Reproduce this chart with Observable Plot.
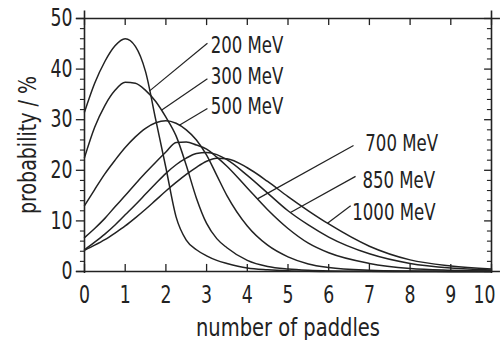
<!DOCTYPE html>
<html><head><meta charset="utf-8">
<script src="https://cdn.jsdelivr.net/npm/d3@7"></script>
<script src="https://cdn.jsdelivr.net/npm/@observablehq/plot@0.6"></script>
<style>body{margin:0;background:#fff}</style>
</head><body><div id="chart"></div>
<script>
// number of paddles (x grid of the read-off points)
const paddles = [0,0.25,0.5,0.75,1,1.25,1.5,1.75,2,2.25,2.5,2.75,3,3.25,3.5,4,4.5,5,5.5,6,7,8,9,10];
// probability / % for each beam energy
const p200  = [31.5,37.2,41.5,44.6,46,44.5,39.5,30,20.5,10.8,6.2,4.3,3.1,2.2,1.6,0.7,0.35,0.15,0.05,0,0,0,0,0];
const p300  = [22.5,28.5,32.8,35.8,37.4,37.2,35.8,33.6,30.5,26.8,21,14.5,9.5,6.5,4.7,2.2,1,0.5,0.25,0.12,0.03,0,0,0];
const p500  = [13,16.2,19.3,22,24.5,26.6,28.3,29.4,29.8,29.3,28,26,23,19,15,9,5.2,2.9,1.5,0.8,0.25,0.08,0.02,0];
const p700  = [6.7,8.5,10.5,12.8,15,17.3,19.5,21.6,23.6,25.5,25.6,25,24.2,22.6,20.8,16.5,12.2,8.5,5.6,3.7,1.6,0.6,0.25,0.1];
const p850  = [4.3,5.8,7.4,9.2,11.2,13.2,15.3,17.4,19.4,21.1,22.4,23.3,23.5,23.1,22.1,19,15.5,12,9.2,6.8,3.5,1.6,0.7,0.3];
const p1000 = [4.2,5.2,6.3,7.6,9,10.6,12.3,14.1,15.9,17.6,19.2,20.6,21.8,22.4,22.3,20.5,17.8,14.8,12,9.4,5,2.3,1.1,0.5];

const energies = ["200 MeV","300 MeV","500 MeV","700 MeV","850 MeV","1000 MeV"];
const seriesValues = [p200,p300,p500,p700,p850,p1000];

// label positions (data units) and leader lines
const labelX     = [3.1,3.1,3.1,6.9,6.83,6.58];
const labelY     = [44.7,38.5,32.6,25.3,18.0,11.7];
const leaderFromX = [1.6,1.89,2.33,4.25,5.06,5.97];
const leaderToX   = [3.02,3.02,3.02,6.61,6.66,6.54];
const leaderToY   = [45.1,38.1,32.2,24.9,18.8,13.0];

const xTicks = [0,1,2,3,4,5,6,7,8,9,10];
const yTicks = [0,10,20,30,40,50];
const yMinor = [2,4,6,8,12,14,16,18,22,24,26,28,32,34,36,38,42,44,46,48];

const rows = energies.flatMap((e, i) => paddles.map((x, j) => ({energy: e, x, y: seriesValues[i][j]})));
const interp = (vals, x) => {
  for (let j = 0; j < paddles.length - 1; j++) {
    if (x >= paddles[j] && x <= paddles[j+1]) {
      const t = (x - paddles[j]) / (paddles[j+1] - paddles[j]);
      return vals[j] + t * (vals[j+1] - vals[j]);
    }
  }
  return 0;
};
const labels = energies.map((e, i) => ({
  text: e, x: labelX[i], y: labelY[i],
  x1: leaderFromX[i], y1: interp(seriesValues[i], leaderFromX[i]),
  x2: leaderToX[i], y2: leaderToY[i]
}));

const ink = "#222";
const font = "'Liberation Sans Narrow', 'DejaVu Sans Condensed', sans-serif";

const chart = Plot.plot({
  width: 501, height: 340,
  marginLeft: 84, marginRight: 10, marginTop: 18, marginBottom: 69,
  style: {fontFamily: font, fontSize: "24px", color: ink, background: "#fff"},
  x: {domain: [0, 10]},
  y: {domain: [0, 50]},
  marks: [
    Plot.axisX({ticks: xTicks, tickSize: 0, tickPadding: 14, fontSize: 24, label: "number of paddles", labelAnchor: "center", labelOffset: 64, labelArrow: "none"}),
    Plot.axisY({ticks: yTicks, tickSize: 0, tickPadding: 12, fontSize: 24, label: "probability / %", labelAnchor: "center", labelOffset: 66, labelArrow: "none"}),
    // frame
    Plot.ruleY([0], {x1: -0.2, x2: 10.22, stroke: ink, strokeWidth: 1.6}),
    Plot.ruleY([50], {x1: -0.2, x2: 10.22, stroke: ink, strokeWidth: 1.6}),
    Plot.ruleX([0], {y1: -0.4, y2: 51.5, stroke: ink, strokeWidth: 1.6}),
    Plot.ruleX([10], {y1: -0.4, y2: 51.5, stroke: ink, strokeWidth: 1.6}),
    // ticks
    Plot.ruleX(xTicks, {y1: 0, y2: 1.4, stroke: ink, strokeWidth: 1.3}),
    Plot.ruleX(xTicks, {y1: 50, y2: 48.6, stroke: ink, strokeWidth: 1.3}),
    Plot.ruleY(yTicks, {x1: -0.2, x2: 0, stroke: ink, strokeWidth: 1.3}),
    Plot.ruleY(yMinor, {x1: -0.1, x2: 0, stroke: ink, strokeWidth: 1.1}),
    Plot.ruleY(yTicks, {x1: 10, x2: 9.83, stroke: ink, strokeWidth: 1.3}),
    Plot.ruleY(yMinor, {x1: 10, x2: 9.9, stroke: ink, strokeWidth: 1.1}),
    // curves
    Plot.line(rows, {x: "x", y: "y", z: "energy", stroke: ink, strokeWidth: 1.5, curve: "monotone-x"}),
    // leaders and labels
    Plot.link(labels, {x1: "x1", y1: "y1", x2: "x2", y2: "y2", stroke: ink, strokeWidth: 1.2}),
    Plot.text(labels, {x: "x", y: "y", text: "text", textAnchor: "start", fontSize: 23, fill: ink})
  ]
});
document.getElementById("chart").appendChild(chart);

// condense the lettering like the narrow typeface of the original
chart.querySelectorAll("text").forEach(t => {
  const s = t.textContent.trim();
  const L = t.getComputedTextLength();
  if (!L) return;
  let target = L * 0.8;
  if (s === "number of paddles") target = 184;
  if (s === "probability / %") target = 138;
  t.setAttribute("textLength", target);
  t.setAttribute("lengthAdjust", "spacingAndGlyphs");
});
// keep the last x tick label inside the picture, as in the original
const xLabels = [...chart.querySelectorAll('g[aria-label="x-axis tick label"] text')];
if (xLabels.length) xLabels[xLabels.length - 1].setAttribute("x", "-7");
</script>
</body></html>
